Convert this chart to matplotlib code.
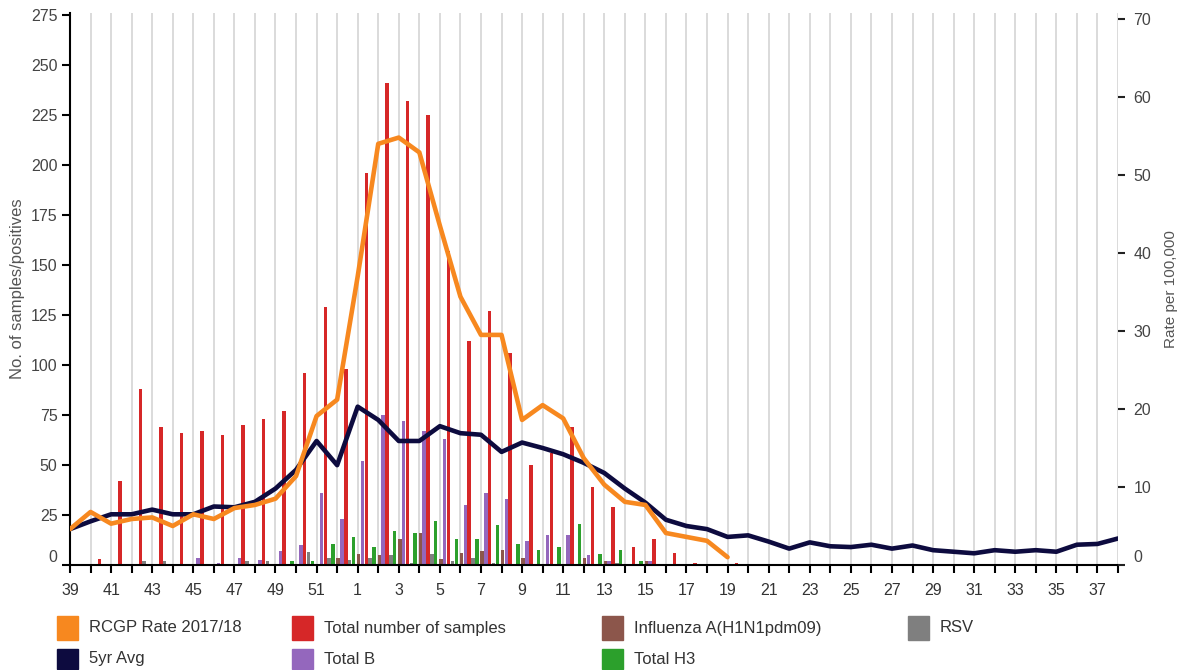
"""
plot.py
────────────────────────────────────────────────────────────
Weekly sample counts / positives (bars, left axis) with the
RCGP consultation rate and 5-year average (lines, right axis).
"""

import numpy as np
import matplotlib
matplotlib.use("Agg")
import matplotlib.pyplot as plt
import matplotlib.transforms as mtrans
from matplotlib.patches import Rectangle

plt.rcParams["font.family"] = ["Liberation Sans", "DejaVu Sans"]

# ════════════════════════════════════════════════════════════
# Data
# ════════════════════════════════════════════════════════════

weeks = list(range(39, 53)) + list(range(1, 39))

total_samples = [0, 3, 42, 88, 69, 66, 67, 65, 70, 73, 77, 96, 129, 98,
                 196, 241, 232, 225, 157, 112, 127, 106, 50, 56, 69, 39, 29, 9, 13, 6, 1, 0, 1] + [0] * 19
total_b = [0, 0, 0, 0, 0, 0, 3.5, 1, 3.5, 2.5, 7, 10, 36, 23,
           52, 75, 72, 67, 63, 30, 36, 33, 12, 15, 15, 5, 2, 0.5, 2, 0, 0, 0, 0] + [0] * 19
total_h3 = [0, 0, 0, 0.5, 0, 0, 0, 0, 0, 0, 2, 2, 10.5, 14,
            9, 17, 16, 22, 13, 13, 20, 10.5, 7.5, 9, 20.5, 5.5, 7.5, 2, 0.5, 0, 0, 0, 0] + [0] * 19
h1n1 = [0] * 13 + [3.5] + \
       [5.5, 5, 13, 16, 3, 6, 7, 7.5, 3.5, 0, 0, 3.3, 2, 0.5, 2, 0.5, 0, 0, 0] + [0] * 19
rsv = [0, 0, 0, 2, 2, 0.5, 0.5, 0.5, 2, 2, 0, 6.5, 3.5, 2.5,
       3.5, 5, 1, 5.5, 2, 3.5, 1, 0.5, 0, 0, 0, 0, 1, 0, 0.5, 0.5, 0, 0, 0] + [0] * 19

rcgp_rate = [4.6, 6.8, 5.3, 5.9, 6.1, 5.0, 6.5, 5.9, 7.3, 7.7, 8.5, 11.4, 19.1, 21.2,
             37, 54.0, 54.8, 52.9, 43.5, 34.4, 29.5, 29.5, 18.6, 20.5, 18.8, 13.7,
             10.3, 8.1, 7.7, 4.1, 3.6, 3.1, 1.0]
avg_5yr = [4.6, 5.6, 6.5, 6.5, 7.1, 6.5, 6.5, 7.5, 7.4, 8.1, 9.8, 12.2, 15.9, 12.8,
           20.3, 18.6, 15.9, 15.9, 17.8, 16.9, 16.7, 14.5, 15.7, 15.0, 14.2, 13.1,
           11.8, 9.8, 8.0, 5.8, 5.0, 4.6, 3.6, 3.8, 3.0, 2.1, 2.9, 2.4,
           2.3, 2.6, 2.1, 2.5, 1.9, 1.7, 1.5, 1.9, 1.7, 1.9, 1.7, 2.6, 2.7, 3.4]

ORANGE = "#f7881f"
NAVY = "#0d0b3f"
RED = "#d62728"
BROWN = "#8c564b"
GREY = "#7f7f7f"
PURPLE = "#9467bd"
GREEN = "#2ca02c"

W, H = 1181, 670


def px_offset(fig, dx, dy):
    # shift in pixels (y up)
    return mtrans.ScaledTranslation(dx / fig.dpi, dy / fig.dpi, fig.dpi_scale_trans)


# ════════════════════════════════════════════════════════════
# Figure
# ════════════════════════════════════════════════════════════

fig = plt.figure(figsize=(W / 100, H / 100), dpi=100)
ax = fig.add_axes([70 / W, 1 - 565 / H, 1048 / W, 552 / H])

x = np.arange(len(weeks))

# grouped bars, one group per week, starting at the week tick
bar_series = [
    (h1n1, BROWN),
    (total_b, PURPLE),
    (total_samples, RED),
    (rsv, GREY),
    (total_h3, GREEN),
]
bw = 0.17
for k, (vals, col) in enumerate(bar_series):
    ax.bar(x + 0.05 + 0.187 * k, vals, width=bw, color=col, zorder=2, linewidth=0)

ax.set_xlim(0, len(weeks) - 1)
ax.set_ylim(0, 276)
ax.set_xticks(x)
ax.set_xticklabels([str(w) if i % 2 == 0 else "" for i, w in enumerate(weeks)])
ax.set_yticks(range(0, 276, 25))

ax.grid(axis="x", color="#d4d4d4", linewidth=1.2)
ax.set_axisbelow(True)
for s in ("top", "right"):
    ax.spines[s].set_visible(False)
for s in ("left", "bottom"):
    ax.spines[s].set_color("black")
    ax.spines[s].set_linewidth(1.5)

ax.tick_params(axis="x", length=6, width=1.5, color="black",
               labelsize=11.5, labelcolor="#333333", pad=7)
ax.tick_params(axis="y", length=6, width=1.5, color="black",
               labelsize=11.5, labelcolor="#444444", pad=3)
ax.set_ylabel("No. of samples/positives", fontsize=12, color="#555555", labelpad=4.5)

# lines on the rate axis
ax2 = ax.twinx()
ax2.set_ylim(0, 70.77)
ax2.set_yticks(range(0, 71, 10))
for s in ax2.spines.values():
    s.set_visible(False)
ax2.tick_params(axis="y", length=5, width=1.5, color="#222222",
                labelsize=11.5, labelcolor="#444444", pad=6)
ax2.set_ylabel("Rate per 100,000", fontsize=11, color="#555555", labelpad=9)

ax2.plot(x, avg_5yr, color=NAVY, linewidth=3.3, solid_joinstyle="round",
         solid_capstyle="round", zorder=3)
ax2.plot(x[:len(rcgp_rate)], rcgp_rate, color=ORANGE, linewidth=3.3,
         solid_joinstyle="round", solid_capstyle="round", zorder=4)

# the zero labels sit a little above their ticks in the original
for a in (ax, ax2):
    t0 = a.yaxis.get_major_ticks()[0]
    t0.label1.set_transform(t0.label1.get_transform() + px_offset(fig, 0, 9))
    t0.label2.set_transform(t0.label2.get_transform() + px_offset(fig, 0, 9))

# ════════════════════════════════════════════════════════════
# Legend (laid out by hand below the plot)
# ════════════════════════════════════════════════════════════

legend_items = [
    ("RCGP Rate 2017/18", ORANGE, 57, 0),
    ("Total number of samples", RED, 292, 0),
    ("Influenza A(H1N1pdm09)", BROWN, 602, 0),
    ("RSV", GREY, 908, 0),
    ("5yr Avg", NAVY, 57, 1),
    ("Total B", PURPLE, 292, 1),
    ("Total H3", GREEN, 602, 1),
]
row_y = [628, 659]
for label, col, x0, row in legend_items:
    yc = row_y[row]
    sh = 24 if row == 0 else 20
    fig.patches.append(Rectangle((x0 / W, 1 - (yc + sh / 2) / H), 21 / W, sh / H,
                                 transform=fig.transFigure, color=col))
    fig.text((x0 + 32) / W, 1 - yc / H, label, fontsize=12, color="#333333",
             ha="left", va="center")

fig.savefig("out.png", dpi=100)
